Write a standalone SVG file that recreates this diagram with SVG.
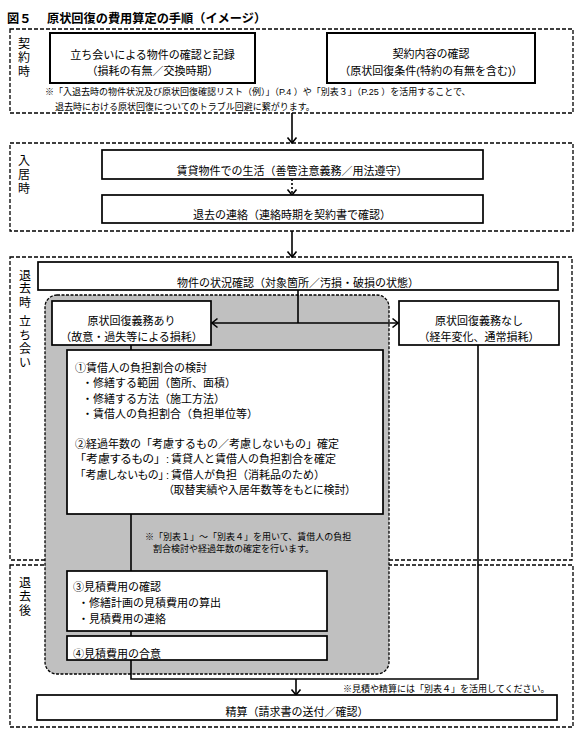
<svg xmlns="http://www.w3.org/2000/svg" width="588" height="741" viewBox="0 0 588 741">
<defs>
<style>
text{font-family:"Liberation Sans","Noto Sans CJK JP",sans-serif;fill:#000}
.t{font-size:11px}
.p{font-feature-settings:"palt"}
.c{text-anchor:middle}
.n{font-size:9px}
.lbl{font-size:12px;text-anchor:middle}
.title{font-size:12.2px;font-weight:bold}
.sec{fill:none;stroke:#000;stroke-width:1.3;stroke-dasharray:4 2}
.box{fill:#fff;stroke:#000;stroke-width:1.7}
.bbox{fill:#fff;stroke:#000;stroke-width:2}
.gray{fill:#c0c0c0;stroke:#000;stroke-width:1.3;stroke-dasharray:3 1.5}
.ln{fill:none;stroke:#000;stroke-width:1.6}
.dl{fill:none;stroke:#000;stroke-width:1.6;stroke-dasharray:2 2}
</style>
<marker id="ah" viewBox="-7 -6 8 12" refX="0" refY="0" markerWidth="8" markerHeight="12" markerUnits="userSpaceOnUse" orient="auto">
<path d="M-5.5,-4.5 L0,0 L-5.5,4.5" fill="none" stroke="#000" stroke-width="1.6"/>
</marker>
</defs>
<rect width="588" height="741" fill="#fff"/>

<text class="title" x="7" y="23"><tspan>図５</tspan><tspan x="47">原状回復の費用算定の手順（イメージ）</tspan></text>

<g id="sections">
<rect class="sec" x="10" y="29" width="563" height="84"/>
<rect class="sec" x="10" y="143" width="563" height="88"/>
<rect class="sec" x="10" y="257" width="562" height="303"/>
<rect class="sec" x="10" y="565" width="563" height="162"/>
<text class="lbl"><tspan x="24" y="48">契</tspan><tspan x="24" y="62">約</tspan><tspan x="24" y="76">時</tspan></text>
<text class="lbl"><tspan x="24" y="165">入</tspan><tspan x="24" y="179">居</tspan><tspan x="24" y="193">時</tspan></text>
<text class="lbl"><tspan x="25" y="280">退</tspan><tspan x="25" y="293">去</tspan><tspan x="25" y="307">時</tspan><tspan x="25" y="326">立</tspan><tspan x="25" y="340">ち</tspan><tspan x="25" y="353">会</tspan><tspan x="25" y="367">い</tspan></text>
<text class="lbl"><tspan x="25" y="587">退</tspan><tspan x="25" y="601">去</tspan><tspan x="25" y="615">後</tspan></text>
</g>

<g id="notes">
<text class="n" x="45" y="94.5">※「入退去時の物件状況及び原状回復確認リスト（例）」（P.4 ）や「別表３」（P.25 ）を活用することで、</text>
<text class="n" x="55" y="109.5">退去時における原状回復についてのトラブル回避に繋がります。</text>
</g>

<g id="grayArea">
<rect class="gray" x="45" y="295" width="344" height="379" rx="12" ry="12"/>
<text class="n" x="145" y="540">※「別表１」～「別表４」を用いて、賃借人の負担</text>
<text class="n" x="153" y="552">割合検討や経過年数の確定を行います。</text>
</g>

<g id="connectors">
<line class="ln" x1="292" y1="113" x2="292" y2="143" marker-end="url(#ah)"/>
<line class="dl" x1="292" y1="179" x2="292" y2="195" marker-end="url(#ah)"/>
<line class="ln" x1="292" y1="231" x2="292" y2="257" marker-end="url(#ah)"/>
<line class="ln" x1="298" y1="290" x2="298" y2="323"/>
<line class="ln" x1="298" y1="323" x2="212" y2="323" marker-end="url(#ah)"/>
<line class="ln" x1="298" y1="323" x2="398" y2="323" marker-end="url(#ah)"/>
<polyline class="ln" points="131,345 131,679 478,679 478,345"/>
<line class="ln" x1="296" y1="679" x2="296" y2="695" marker-end="url(#ah)"/>
</g>

<g id="n1">
<rect class="bbox" x="50" y="33" width="205" height="50"/>
<text class="t c" x="152.5" y="59">立ち会いによる物件の確認と記録</text>
<text class="t c" x="152.5" y="75">（損耗の有無／交換時期）</text>
</g>
<g id="n2">
<rect class="bbox" x="327" y="33" width="208" height="50"/>
<text class="t c" x="431" y="58">契約内容の確認</text>
<text class="t c" x="431" y="75">（原状回復条件(特約の有無を含む)）</text>
</g>
<g id="n3">
<rect class="box" x="102" y="150" width="381" height="29"/>
<text class="t c" x="292" y="175">賃貸物件での生活（善管注意義務／用法遵守）</text>
</g>
<g id="n4">
<rect class="box" x="102" y="195" width="381" height="28"/>
<text class="t c" x="292" y="219">退去の連絡（連絡時期を契約書で確認）</text>
</g>
<g id="n5">
<rect class="box" x="38" y="262" width="520" height="28"/>
<text class="t c" x="298" y="287">物件の状況確認（対象箇所／汚損・破損の状態）</text>
</g>
<g id="n6">
<rect class="box" x="52" y="301" width="159" height="44"/>
<text class="t c" x="131.5" y="325">原状回復義務あり</text>
<text class="t c" x="131.5" y="341">（故意・過失等による損耗）</text>
</g>
<g id="n7">
<rect class="box" x="399" y="301" width="160" height="44"/>
<text class="t c" x="479" y="325">原状回復義務なし</text>
<text class="t c" x="479" y="341">（経年変化、通常損耗）</text>
</g>
<g id="n8">
<rect class="box" x="67" y="350" width="316" height="164"/>
<text class="t" x="75" y="372">①賃借人の負担割合の検討</text>
<text class="t" x="82" y="387">・修繕する範囲（箇所、面積）</text>
<text class="t" x="82" y="403">・修繕する方法（施工方法）</text>
<text class="t" x="82" y="418">・賃借人の負担割合（負担単位等）</text>
<text class="t" x="75" y="448">②経過年数の「考慮するもの／考慮しないもの」確定</text>
<text class="t p" x="80" y="463" textLength="80" lengthAdjust="spacingAndGlyphs">「考慮するもの」</text>
<text class="t" x="166" y="463">:</text>
<text class="t" x="171" y="463">賃貸人と賃借人の負担割合を確定</text>
<text class="t p" x="80" y="479" textLength="84" lengthAdjust="spacingAndGlyphs">「考慮しないもの」</text>
<text class="t" x="166" y="479">:</text>
<text class="t" x="171" y="479">賃借人が負担（消耗品のため）</text>
<text class="t p" x="168" y="494">（取替実績や入居年数等をもとに検討）</text>
</g>
<g id="n9">
<rect class="box" x="67" y="571" width="260" height="60"/>
<text class="t" x="73" y="591">③見積費用の確認</text>
<text class="t" x="78" y="607">・修繕計画の見積費用の算出</text>
<text class="t" x="78" y="623">・見積費用の連絡</text>
</g>
<g id="n10">
<rect class="box" x="67" y="636" width="260" height="24"/>
<text class="t" x="73" y="658">④見積費用の合意</text>
</g>
<g id="n11">
<rect class="box" x="37" y="695" width="520" height="25"/>
<text class="t c" x="297" y="716">精算（請求書の送付／確認）</text>
<text class="n" x="343" y="692">※見積や精算には「別表４」を活用してください。</text>
</g>
</svg>
